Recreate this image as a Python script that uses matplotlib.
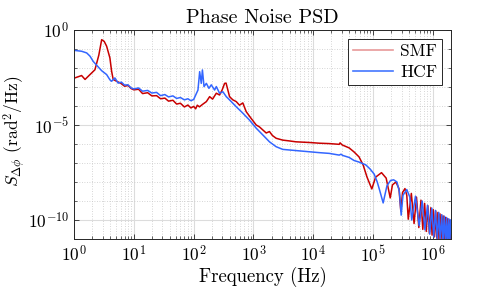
import matplotlib
matplotlib.use('Agg')
import matplotlib.pyplot as plt
from matplotlib.ticker import FixedLocator, LogFormatterMathtext, NullFormatter
import numpy as np

plt.rcParams['font.family'] = ['cmr10', 'DejaVu Serif']
plt.rcParams['mathtext.fontset'] = 'cm'
plt.rcParams['axes.formatter.use_mathtext'] = True

# SMF trace (Hz, rad^2/Hz)
smf_f = [1.0, 1.34, 1.53, 1.85, 2.24, 2.6, 2.9, 3.2, 3.51, 3.98, 4.25, 4.52, 5.15,
         6.0, 7.0, 8.0, 9.0, 10, 12, 14, 17, 20, 24, 28, 33, 38, 45, 52, 60, 70, 80,
         90, 100, 108, 115, 125, 140, 163, 185, 207, 239, 271, 299, 329, 348, 373,
         398, 452, 515, 584, 663, 756, 915, 1110, 1260, 1430, 1630, 1850, 2070,
         2390, 3080, 3980, 5150, 8580, 1.26e4, 1.85e4, 2.71e4, 2.8e4, 3.04e4,
         3.98e4, 4.8e4, 5.8e4, 6.8e4, 7.9e4, 9.5e4, 1.1e5, 1.38e5, 1.65e5, 1.93e5,
         2.1e5, 2.4e5, 2.7e5, 2.9e5, 3.1e5, 3.4e5, 3.65e5, 3.86e5, 4.35e5, 4.83e5,
         5.3e5, 5.8e5, 6.3e5, 6.76e5, 7.25e5, 7.73e5, 8.2e5, 8.7e5, 9.2e5, 9.66e5,
         1.01e6, 1.06e6, 1.11e6, 1.16e6, 1.21e6, 1.26e6, 1.31e6, 1.35e6, 1.4e6,
         1.45e6, 1.5e6, 1.55e6, 1.6e6, 1.64e6, 1.69e6, 1.74e6, 1.79e6, 1.84e6,
         1.89e6, 1.93e6, 1.98e6]
smf_s = [2.9e-3, 4.0e-3, 2.5e-3, 4.5e-3, 8.1e-3, 4.8e-2, 0.31, 0.25, 0.14, 0.034,
         6.8e-3, 2.5e-3, 2.0e-3, 1.6e-3, 1.1e-3, 1.2e-3, 8.3e-4, 7.1e-4, 7.6e-4,
         4.5e-4, 5.0e-4, 3.4e-4, 3.5e-4, 2.4e-4, 2.6e-4, 1.8e-4, 2.0e-4, 1.26e-4,
         1.4e-4, 8.9e-5, 1.12e-4, 7.9e-5, 9.5e-5, 7.1e-5, 1.1e-4, 9.0e-5, 1.2e-4,
         1.7e-4, 3.1e-4, 2.3e-4, 4.7e-4, 3.8e-4, 6.9e-4, 1.55e-3, 1.6e-3, 6.9e-4,
         3.1e-4, 2.1e-4, 1.7e-4, 1.1e-4, 1.45e-4, 5.0e-5, 2.2e-5, 1.0e-5, 7.9e-6,
         5.5e-6, 3.8e-6, 4.5e-6, 2.8e-6, 2.0e-6, 1.6e-6, 1.45e-6, 1.3e-6, 1.2e-6,
         1.1e-6, 1.05e-6, 9.6e-7, 1.15e-6, 8.9e-7, 6.2e-7, 3.8e-7, 2.1e-7, 7.9e-8,
         1.8e-8, 4.3e-9, 1.8e-8, 3.1e-8, 1.6e-8, 1.45e-9, 7.0e-9, 1.0e-8, 4.5e-9,
         3.0e-10, 2.8e-9, 4.5e-9, 2.0e-9, 1.1e-10, 2.5e-9, 6.5e-11, 1.6e-9, 4.0e-11,
         1.1e-9, 3.2e-11, 7.5e-10, 2.5e-11, 5.6e-10, 2.0e-11, 4.4e-10, 1.6e-11,
         3.5e-10, 1.3e-11, 3.0e-10, 1.1e-11, 2.5e-10, 1.0e-11, 2.1e-10, 8.5e-12,
         1.8e-10, 8.0e-12, 1.6e-10, 7.0e-12, 1.4e-10, 6.5e-12, 1.25e-10, 6.0e-12,
         1.1e-10, 5.5e-12, 1.0e-10, 5.0e-12, 9.0e-11]

# HCF trace
hcf_f = [1.0, 1.34, 1.63, 1.85, 2.1, 2.39, 2.9, 3.51, 3.98, 4.25, 4.82, 5.47, 6.2,
         7.0, 8.0, 9.0, 10, 12, 14, 17, 20, 24, 28, 33, 38, 45, 52, 60, 70, 80, 90,
         100, 118, 126, 134, 140, 149, 163, 180, 197, 224, 239, 271, 308, 351, 398,
         515, 584, 663, 858, 1110, 1430, 1850, 2390, 3080, 5150, 8580, 1.26e4,
         1.85e4, 2.71e4, 2.9e4, 3.1e4, 3.98e4, 4.8e4, 5.8e4, 7.55e4, 8.9e4, 1.04e5,
         1.17e5, 1.28e5, 1.47e5, 1.7e5, 1.95e5, 2.2e5, 2.5e5, 2.75e5, 2.94e5,
         3.15e5, 3.65e5, 4.1e5, 4.41e5, 5.1e5, 5.88e5, 6.6e5, 7.35e5, 8.1e5, 8.82e5,
         9.55e5, 1.03e6, 1.1e6, 1.18e6, 1.25e6, 1.32e6, 1.4e6, 1.47e6, 1.54e6,
         1.62e6, 1.69e6, 1.76e6, 1.84e6, 1.91e6, 1.98e6]
hcf_s = [8.5e-2, 7.6e-2, 6.2e-2, 4.2e-2, 2.2e-2, 1.4e-2, 7.2e-3, 4.5e-3, 2.4e-3,
         2.0e-3, 3.0e-3, 1.6e-3, 1.8e-3, 1.26e-3, 1.3e-3, 8.9e-4, 7.9e-4, 8.9e-4,
         6.0e-4, 6.6e-4, 4.8e-4, 5.2e-4, 3.5e-4, 4.0e-4, 3.0e-4, 3.4e-4, 2.5e-4,
         2.8e-4, 2.1e-4, 2.4e-4, 1.9e-4, 2.2e-4, 6.9e-4, 6.4e-3, 1.55e-3, 7.9e-3,
         1.05e-3, 1.55e-3, 8.5e-4, 1.3e-3, 6.9e-4, 1.05e-3, 4.7e-4, 5.6e-4, 3.1e-4,
         2.1e-4, 9.1e-5, 6.2e-5, 4.2e-5, 1.8e-5, 6.8e-6, 3.0e-6, 1.3e-6, 7.2e-7,
         5.2e-7, 4.5e-7, 3.9e-7, 3.5e-7, 3.2e-7, 2.6e-7, 2.9e-7, 2.5e-7, 1.95e-7,
         1.35e-7, 1.12e-7, 7.9e-8, 4.8e-8, 2.6e-8, 1.0e-8, 3.8e-9, 7.9e-10, 6.3e-9,
         1.2e-8, 1.3e-8, 1.0e-8, 3.0e-9, 1.8e-10, 2.0e-9, 4.0e-9, 1.6e-9, 1.0e-10,
         1.8e-9, 5.0e-11, 1.0e-9, 3.0e-11, 6.0e-10, 1.8e-11, 4.2e-10, 1.3e-11,
         3.2e-10, 1.0e-11, 2.5e-10, 8.0e-12, 1.9e-10, 6.5e-12, 1.6e-10, 6.0e-12,
         1.35e-10, 5.0e-12, 1.15e-10, 5.0e-12, 1.0e-10]

series_names = ['SMF', 'HCF']
line_colors = ['#c80000', '#3366ff']
legend_colors = ['#e89a9a', '#4477ff']
x_ticks = [1e0, 1e1, 1e2, 1e3, 1e4, 1e5, 1e6]
y_ticks = [1e-10, 1e-5, 1e0]

fig = plt.figure(figsize=(4.98, 2.99), dpi=100)
ax = fig.add_axes([0.1486, 0.2007, 0.757, 0.699])

ax.loglog(smf_f, smf_s, color=line_colors[0], lw=1.1, label=series_names[0])
ax.loglog(hcf_f, hcf_s, color=line_colors[1], lw=1.1, label=series_names[1])

ax.set_xlim(1, 2e6)
ax.set_ylim(1e-11, 1)

ax.xaxis.set_major_locator(FixedLocator(x_ticks))
ax.xaxis.set_major_formatter(LogFormatterMathtext())
ax.yaxis.set_major_locator(FixedLocator(y_ticks))
ax.yaxis.set_minor_locator(FixedLocator([10.0 ** k for k in range(-11, 1)]))
ax.yaxis.set_major_formatter(LogFormatterMathtext())
ax.yaxis.set_minor_formatter(NullFormatter())

ax.grid(True, which='major', color='#dcdcdc', lw=0.8, ls='-')
ax.grid(True, which='minor', color='#c8c8c8', lw=0.6, ls=(0, (1, 2)))
ax.set_axisbelow(True)

ax.tick_params(which='both', direction='in', top=True, right=True,
               colors='#262626', labelcolor='black', labelsize=12.5)
ax.tick_params(which='major', length=3.5, width=0.6)
ax.tick_params(which='minor', length=2, width=0.5)
for sp in ax.spines.values():
    sp.set_color('#262626')
    sp.set_linewidth(0.7)

ax.set_title('Phase Noise PSD', fontsize=14.5, pad=5)
ax.set_xlabel('Frequency (Hz)', fontsize=13.5, labelpad=2)
ax.set_ylabel(r'$S_{\Delta\phi}$ (rad$^2$/Hz)', fontsize=12.5)
ax.yaxis.set_label_coords(-0.122, 0.517)

leg = ax.legend(loc='upper right', fontsize=12.5, frameon=True, fancybox=False,
                edgecolor='#262626', framealpha=1, borderpad=0.3,
                handlelength=2.3, handletextpad=0.4, labelspacing=0.3,
                borderaxespad=0.5)
leg.get_frame().set_linewidth(0.7)
for h, c in zip(leg.get_lines(), legend_colors):
    h.set_color(c)
    h.set_linewidth(1.2)

fig.savefig('out.png', dpi=100)
